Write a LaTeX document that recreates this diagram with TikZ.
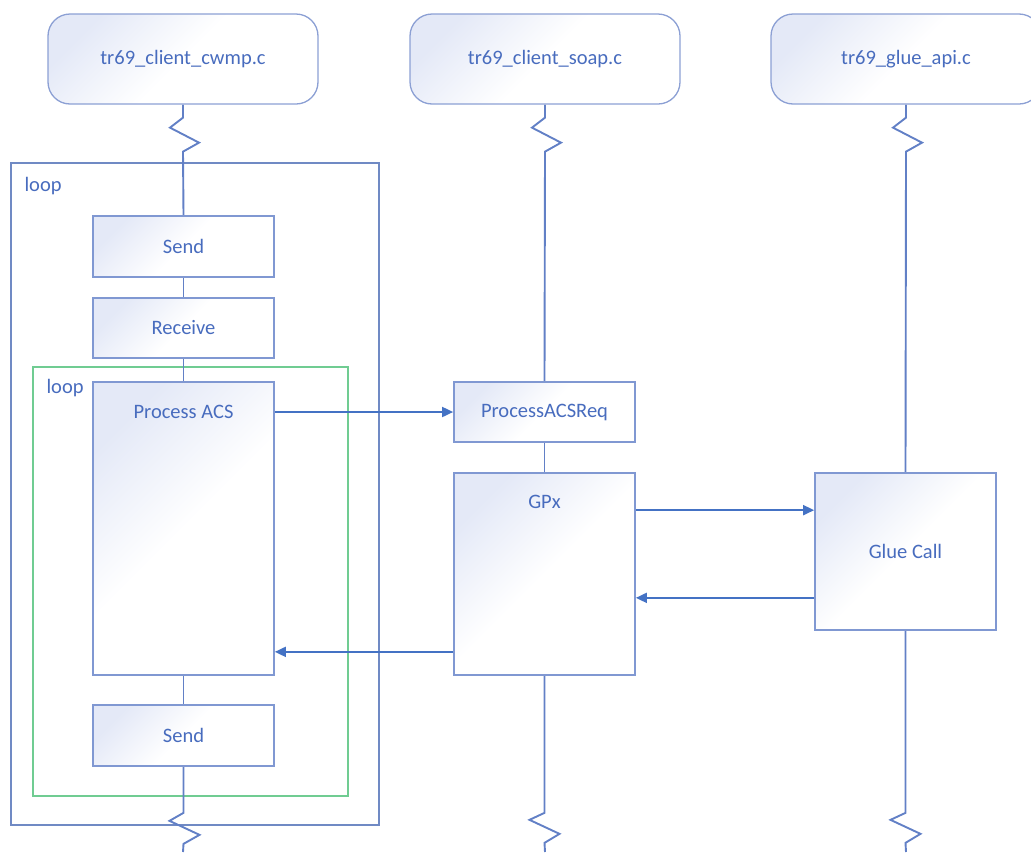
\documentclass[tikz,border=0pt]{standalone}
\usepackage{fontspec}
\setmainfont{Carlito}
\usetikzlibrary{arrows.meta,calc,backgrounds}

\definecolor{txtblue}{RGB}{72,108,190}
\definecolor{lav}{RGB}{228,233,247}
\definecolor{headline}{RGB}{140,160,212}
\definecolor{boxline}{RGB}{128,152,210}
\definecolor{lifec}{RGB}{98,128,198}
\definecolor{arrowc}{RGB}{68,114,196}
\definecolor{framec}{RGB}{112,138,196}
\definecolor{greenc}{RGB}{112,204,146}

\begin{document}
\begin{tikzpicture}[x=1pt,y=-1pt,
  every node/.style={font=\fontsize{20.5}{24}\selectfont, text=txtblue},
  head/.style={draw=headline, line width=1.3pt, rounded corners=22pt,
    minimum width=270pt, minimum height=90pt, inner sep=0pt,
    top color=lav, bottom color=white, middle color=white, shading angle=45},
  act/.style={draw=boxline, line width=1.7pt, minimum width=181pt, inner sep=0pt,
    top color=lav, bottom color=white, middle color=white, shading angle=45},
  life/.style={draw=lifec, line width=1.9pt},
  msg/.style={draw=arrowc, line width=1.8pt, -{Triangle[length=11pt,width=10pt]}},
  outerframe/.style={draw=framec, line width=1.5pt},
  innerframe/.style={draw=greenc, line width=1.5pt},
  tag/.style={anchor=base west}
]
\useasboundingbox (0,0) rectangle (1031,852);
\clip (0,0) rectangle (1031,852);

% lifeline heads
\node[head] (h1) at (183,59) {tr69\_client\_cwmp.c};
\node[head] (h2) at (545,59) {tr69\_client\_soap.c};
\node[head] (h3) at (906,59) {tr69\_glue\_api.c};

% activities on the cwmp lifeline
\node[act, minimum height=61pt] (s1) at (183.5,246.5) {Send};
\node[act, minimum height=60pt] (r1) at (183.5,328) {Receive};
\node[act, minimum height=293pt,
  label={[anchor=center,yshift=-31pt,text=txtblue]north:Process ACS}] (pa) at (183.5,528.5) {};
\node[act, minimum height=61pt] (s2) at (183.5,735.5) {Send};

% activities on the soap lifeline
\node[act, minimum height=60pt] (pr) at (544.5,412) {ProcessACSReq};
\node[act, minimum height=202pt,
  label={[anchor=center,yshift=-30pt,text=txtblue]north:GPx}] (gp) at (544.5,574) {};

% activity on the glue lifeline
\node[act, minimum height=157pt] (gc) at (905.5,551.5) {Glue Call};

% loop frames and their tags
\node[tag] (l1) at (21,191) {loop};
\node[tag] (l2) at (43,393) {loop};

\coordinate (e1) at (183,852);
\coordinate (e2) at (545,852);
\coordinate (e3) at (906,852);

\begin{scope}[on background layer]
  \draw[outerframe] (11,163) rectangle (379,825);
  \draw[innerframe] (33,367) rectangle (348,796);

  % cwmp lifeline
  \draw[life] (h1.south) -- ++(0,13) -- ++(-13,10) -- ++(29,15) -- ++(-16,9) -- (s1.north);
  \draw[life] (s1.south) -- (r1.north);
  \draw[life] (r1.south) -- (pa.north);
  \draw[life] (pa.south) -- (s2.north);
  \draw[life] (s2.south) -- ++(0,46) -- ++(-14,8) -- ++(30,14) -- ++(-16,9) -- (e1);

  % soap lifeline
  \draw[life] (h2.south) -- ++(0,13) -- ++(-13,10) -- ++(29,15) -- ++(-16,9) -- (pr.north);
  \draw[life] (pr.south) -- (gp.north);
  \draw[life] (gp.south) -- ++(0,137) -- ++(-15,7) -- ++(30,14) -- ++(-15,9) -- (e2);

  % glue lifeline
  \draw[life] (h3.south) -- ++(0,13) -- ++(-13,10) -- ++(29,15) -- ++(-16,9) -- (gc.north);
  \draw[life] (gc.south) -- ++(0,182) -- ++(-15,7) -- ++(30,14) -- ++(-15,9) -- (e3);
\end{scope}

% messages
\draw[msg] (pr.west -| pa.east) -- (pr.west);
\coordinate (m2) at ($(gp.north east)+(0,38)$);
\draw[msg] (m2) -- (m2 -| gc.west);
\coordinate (m3) at ($(gc.south west)+(0,-33)$);
\draw[msg] (m3) -- (m3 -| gp.east);
\coordinate (m4) at ($(gp.south west)+(0,-24)$);
\draw[msg] (m4) -- (m4 -| pa.east);
\end{tikzpicture}
\end{document}
